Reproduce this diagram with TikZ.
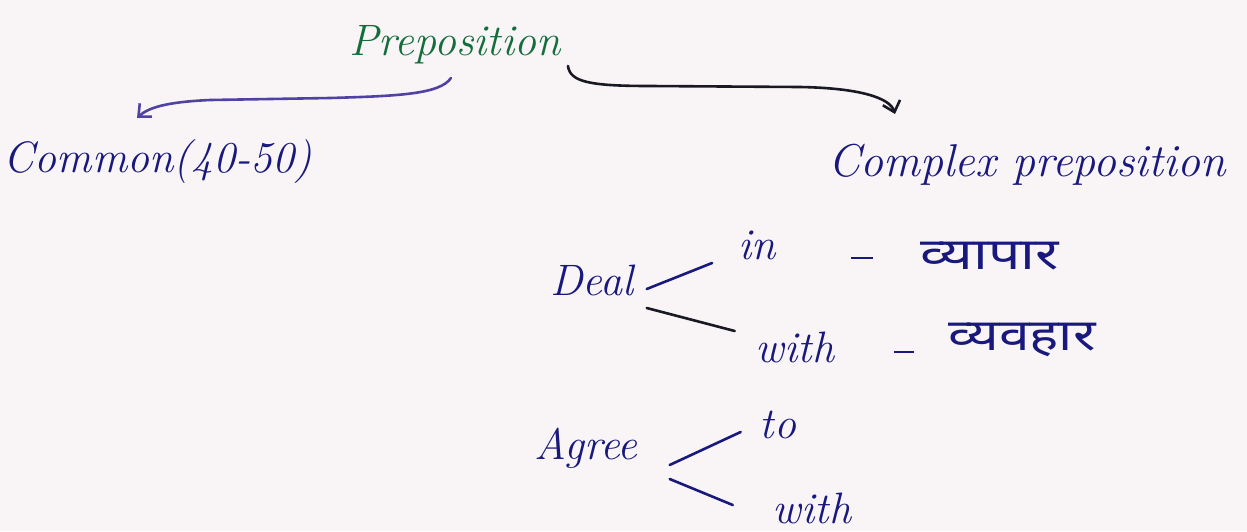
\documentclass[tikz,border=0pt]{standalone}
\usepackage{fontspec}
\newfontfamily\devfont[Script=Devanagari]{Noto Sans}
\usetikzlibrary{arrows.meta}
\definecolor{inkblue}{RGB}{25,25,125}
\definecolor{inkgreen}{RGB}{20,110,60}
\definecolor{inkpurple}{RGB}{80,65,165}
\definecolor{inkblack}{RGB}{25,25,35}
\definecolor{paper}{RGB}{249,245,247}
\tikzset{
  hand/.style={inner sep=0pt, text=inkblue, font=\fontsize{44}{50}\selectfont\itshape},
  hindi/.style={inner sep=0pt, text=inkblue, font=\fontsize{44}{50}\selectfont\devfont},
  dashmark/.style={inner sep=0pt, text=inkblue},
  stroke/.style={line width=2.6pt, line cap=round, inkblue},
  curvearrow/.style={line width=2.6pt, line cap=round, -{Straight Barb[length=10pt,width=18pt,line width=2.6pt]}}
}
\begin{document}
\begin{tikzpicture}[x=1pt,y=-1pt]
\fill[paper] (0,0) rectangle (1247,531);
\useasboundingbox (0,0) rectangle (1247,531);

\node[hand, text=inkgreen] (prep) at (455,45) {Preposition};
\node[hand] (common) at (158,162) {Common(40-50)};
\node[hand, font=\fontsize{46}{52}\selectfont\itshape] (complex) at (1027,165) {Complex preposition};

\node[hand] (deal) at (592,280) {Deal};
\node[hand] (in) at (757,245) {in};
\node[dashmark] (dash1) at (862,258) {\rule{22pt}{2.6pt}};
\node[hindi] (vyapar) at (990,256) {\scalebox{1.3}[1]{व्यापार}};
\node[hand] (with1) at (795,347) {with};
\node[dashmark] (dash2) at (904,352) {\rule{20pt}{2.6pt}};
\node[hindi] (vyavhar) at (1022,340) {\scalebox{1.25}[1]{व्यवहार}};

\node[hand] (agree) at (586,448) {Agree};
\node[hand] (to) at (778,425) {to};
\node[hand] (with2) at (812,508) {with};

\coordinate (p1) at (451,78);
\coordinate (p2) at (568,66);
\coordinate (c1) at (137,118);
\coordinate (c2) at (895,114);

\draw[curvearrow, inkpurple] (p1) .. controls (440,94) and (400,96) .. (330,98)
   -- (210,100) .. controls (165,102) and (148,108) .. (c1);
\draw[curvearrow, inkblack] (p2) .. controls (570,82) and (590,86) .. (650,86)
   -- (800,87) .. controls (860,88) and (890,98) .. (c2);

\draw[stroke] ([shift={(13,9)}]deal.east) -- ([shift={(-26,18)}]in.west);
\draw[stroke, inkblack] ([shift={(13,28)}]deal.east) -- ([shift={(-21,-16)}]with1.west);
\draw[stroke] ([shift={(32,17)}]agree.east) -- ([shift={(-19,7)}]to.west);
\draw[stroke] ([shift={(32,31)}]agree.east) -- ([shift={(-40,-3)}]with2.west);
\end{tikzpicture}
\end{document}
